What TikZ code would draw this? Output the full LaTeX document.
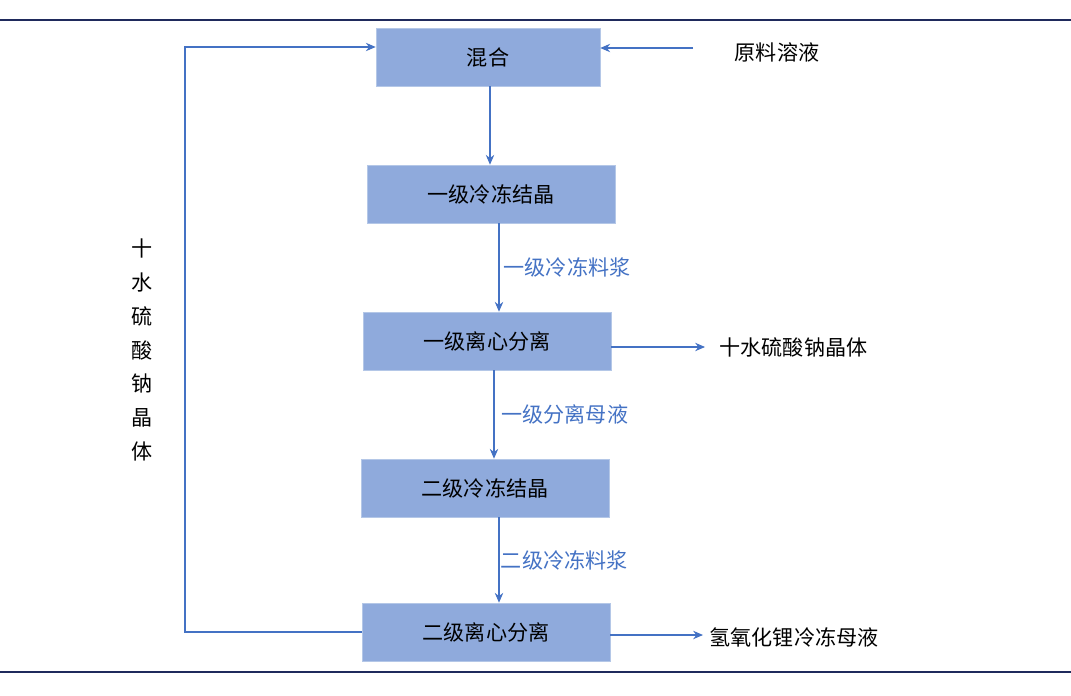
\documentclass[tikz,border=0pt]{standalone}
\usepackage{fontspec}
\setmainfont{Noto Sans CJK SC}
\definecolor{boxblue}{HTML}{8FAADC}
\definecolor{boxedge}{HTML}{B4C7E7}
\definecolor{arrowblue}{HTML}{4472C4}
\definecolor{rulenavy}{HTML}{1F2A5C}
\usetikzlibrary{arrows.meta,positioning,calc}

\begin{document}
\begin{tikzpicture}[x=0.025cm, y=-0.025cm,
  stage/.style={draw=boxedge, fill=boxblue, minimum height=1.45cm,
    font=\fontsize{15}{18}\selectfont, inner sep=0pt},
  lbl/.style={font=\fontsize{15}{18}\selectfont, inner sep=1pt},
  flow/.style={-{Stealth[length=7pt,width=6pt]}, arrowblue, line width=0.8pt}
]
  \useasboundingbox (0,0) rectangle (1071,696);
  % rules
  \draw[rulenavy, line width=2pt] (0,20) -- (1071,20);
  \draw[rulenavy, line width=2pt] (0,672) -- (1071,672);

  % process steps
  \node[stage, minimum width=5.6cm] (mix) at (488,57) {混合};
  \node[stage, minimum width=6.2cm] (cry1) at (491,194) {一级冷冻结晶};
  \node[stage, minimum width=6.2cm] (sep1) at (487,341) {一级离心分离};
  \node[stage, minimum width=6.2cm] (cry2) at (485,488) {二级冷冻结晶};
  \node[stage, minimum width=6.2cm] (sep2) at (486,632) {二级离心分离};

  % side texts
  \node[lbl] (feed) at (777,52) {原料溶液};
  \node[lbl, anchor=west] (salt) at (718,347) {十水硫酸钠晶体};
  \node[lbl, anchor=west] (lioh) at (708,637) {氢氧化锂冷冻母液};
  \node[lbl, align=center, font=\fontsize{15}{24}\selectfont] (back) at (142,350)
    {十\\水\\硫\\酸\\钠\\晶\\体};
  \coordinate (feedin) at (693,48);
  \coordinate (saltin) at (705,347);
  \coordinate (liohin) at (703,635);

  % main flow
  \draw[flow] (mix.south -| 490,0) -- (cry1.north -| 490,0);
  \draw[flow] (cry1.south -| 499,0) -- node[lbl, right=2pt] {一级冷冻料浆} (sep1.north -| 499,0);
  \draw[flow] (sep1.south -| 494,0) -- node[lbl, right=4pt] {一级分离母液} (cry2.north -| 494,0);
  \draw[flow] (cry2.south -| 499,0) -- node[lbl, right=0pt] {二级冷冻料浆} (sep2.north -| 499,0);

  % side flows
  \draw[flow] (feedin) -- (feedin -| mix.east);
  \draw[flow] (sep1.east |- saltin) -- (saltin);
  \draw[flow] (sep2.east |- liohin) -- (liohin);
  \draw[flow] (sep2.west) -- (185,632) -- (185,47) -- (mix.west |- 0,47);
\end{tikzpicture}
\end{document}
